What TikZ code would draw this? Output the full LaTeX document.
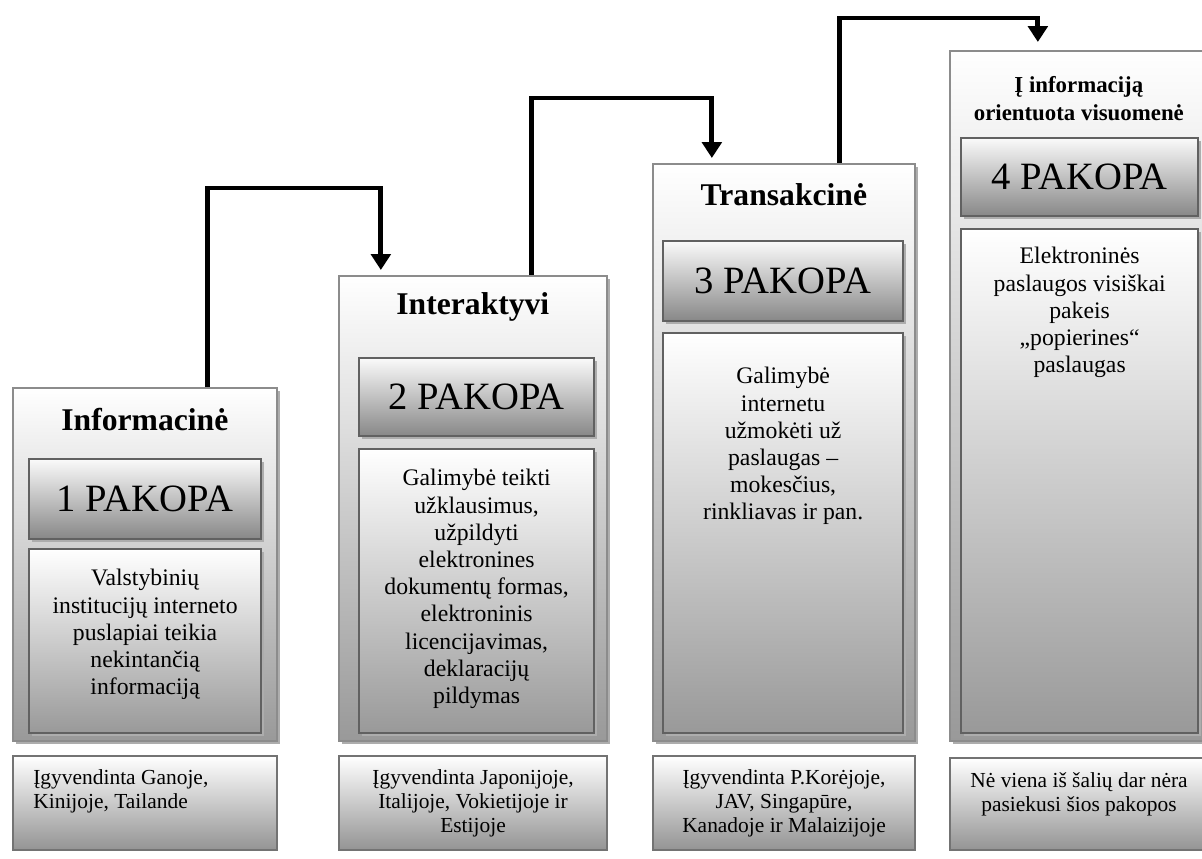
\documentclass[tikz,border=0pt]{standalone}
\usepackage{fontspec}
\setmainfont{Liberation Serif}
\usetikzlibrary{arrows.meta,shadows,calc}

\tikzset{
  shade box/.style={drop shadow={shadow xshift=1.6pt, shadow yshift=-1.6pt, fill=black!32, opacity=1}},
  stage/.style={draw=black!45, line width=1pt, top color=white, bottom color=black!40, shade box, anchor=north west, inner sep=0pt},
  levelbox/.style={draw=black!62, line width=1.3pt, top color=black!2, bottom color=black!47, shade box, anchor=north west, inner sep=0pt, font=\fontsize{22}{24}\selectfont},
  infobox/.style={draw=black!62, line width=1.3pt, top color=white, bottom color=black!40, shade box, anchor=north west, inner sep=0pt},
  basebox/.style={draw=black!55, line width=1.2pt, top color=white, bottom color=black!42, anchor=north west, inner sep=0pt},
  headtext/.style={font=\bfseries\fontsize{18}{20}\selectfont, align=center},
  infotext/.style={font=\fontsize{13.5}{15.5}\selectfont, align=center, anchor=north, inner sep=0pt},
  basetext/.style={font=\fontsize{12.2}{13.6}\selectfont, anchor=north, inner sep=0pt},
  climb/.style={line width=2.8pt, -{Triangle[width=11pt,length=9pt]}}
}

\begin{document}
\begin{tikzpicture}[x=0.02cm, y=-0.02cm]
		\useasboundingbox (0,0) rectangle (1202,858);
		% 1 pakopa
		\node[stage, minimum width=5.28cm, minimum height=7.06cm] (o1) at (12,387) {};
		\node[headtext] (h1) at ($(o1.north)+(0,33)$) {Informacinė};
		\node[levelbox, minimum width=4.64cm, minimum height=1.60cm] (p1) at ($(o1.north west)+(16,71)$) {1 PAKOPA};
		\node[infobox, minimum width=4.64cm, minimum height=3.68cm] (d1) at ($(o1.north west)+(16,161)$) {};
		\node[infotext] (t1) at ($(d1.north)+(0,21)$) {Valstybinių\\institucijų interneto\\puslapiai teikia\\nekintančią\\informaciją};
		\node[basebox, minimum width=5.28cm, minimum height=1.88cm] (b1) at (12,755) {};
		\node[basetext, anchor=north west, align=left] (s1) at ($(b1.north west)+(21,14)$) {Įgyvendinta Ganoje,\\Kinijoje, Tailande};
		%
		% 2 pakopa
		\node[stage, minimum width=5.36cm, minimum height=9.30cm] (o2) at (338,275) {};
		\node[headtext] (h2) at ($(o2.north)+(0,32)$) {Interaktyvi};
		\node[levelbox, minimum width=4.70cm, minimum height=1.56cm] (p2) at ($(o2.north west)+(20,82)$) {2 PAKOPA};
		\node[infobox, minimum width=4.70cm, minimum height=5.68cm] (d2) at ($(o2.north west)+(20,173)$) {};
		\node[infotext] (t2) at ($(d2.north)+(0,21)$) {Galimybė teikti\\užklausimus,\\užpildyti\\elektronines\\dokumentų formas,\\elektroninis\\licencijavimas,\\deklaracijų\\pildymas};
		\node[basebox, minimum width=5.36cm, minimum height=1.88cm] (b2) at (338,755) {};
		\node[basetext, align=center] (s2) at ($(b2.north)+(0,14)$) {Įgyvendinta Japonijoje,\\Italijoje, Vokietijoje ir\\Estijoje};
		%
		% 3 pakopa
		\node[stage, minimum width=5.24cm, minimum height=11.54cm] (o3) at (652,163) {};
		\node[headtext] (h3) at ($(o3.north)+(0,32)$) {Transakcinė};
		\node[levelbox, minimum width=4.80cm, minimum height=1.60cm] (p3) at ($(o3.north west)+(10,77)$) {3 PAKOPA};
		\node[infobox, minimum width=4.80cm, minimum height=8.00cm] (d3) at ($(o3.north west)+(10,169)$) {};
		\node[infotext] (t3) at ($(d3.north)+(0,35)$) {Galimybė\\internetu\\užmokėti už\\paslaugas –\\mokesčius,\\rinkliavas ir pan.};
		\node[basebox, minimum width=5.24cm, minimum height=1.88cm] (b3) at (652,755) {};
		\node[basetext, align=center] (s3) at ($(b3.north)+(0,14)$) {Įgyvendinta P.Korėjoje,\\JAV, Singapūre,\\Kanadoje ir Malaizijoje};
		%
		% 4 pakopa
		\node[stage, minimum width=5.16cm, minimum height=13.80cm] (o4) at (949,50) {};
		\node[headtext, font=\bfseries\fontsize{13}{16}\selectfont] (h4) at ($(o4.north)+(0,49)$) {Į informaciją\\orientuota visuomenė};
		\node[levelbox, minimum width=4.74cm, minimum height=1.56cm] (p4) at ($(o4.north west)+(11,87)$) {4 PAKOPA};
		\node[infobox, minimum width=4.74cm, minimum height=10.08cm] (d4) at ($(o4.north west)+(11,178)$) {};
		\node[infotext] (t4) at ($(d4.north)+(0,19)$) {Elektroninės\\paslaugos visiškai\\pakeis\\„popierines“\\paslaugas};
		\node[basebox, minimum width=5.16cm, minimum height=1.84cm] (b4) at (949,757) {};
		\node[basetext, align=center] (s4) at ($(b4.north)+(0,15)$) {Nė viena iš šalių dar nėra\\pasiekusi šios pakopos};
		%
		% rodyklės tarp pakopų
		\draw[climb] ([shift={(63,0)}]o1.north) -- ++(0,-199) -| ([shift={(-92,-5)}]o2.north);
		\draw[climb] ([shift={(59,0)}]o2.north) -- ++(0,-177) -| ([shift={(-72,-5)}]o3.north);
		\draw[climb] ([shift={(56,0)}]o3.north) -- ++(0,-145) -| ([shift={(-41,-8)}]o4.north);
	\end{tikzpicture}
\end{document}
